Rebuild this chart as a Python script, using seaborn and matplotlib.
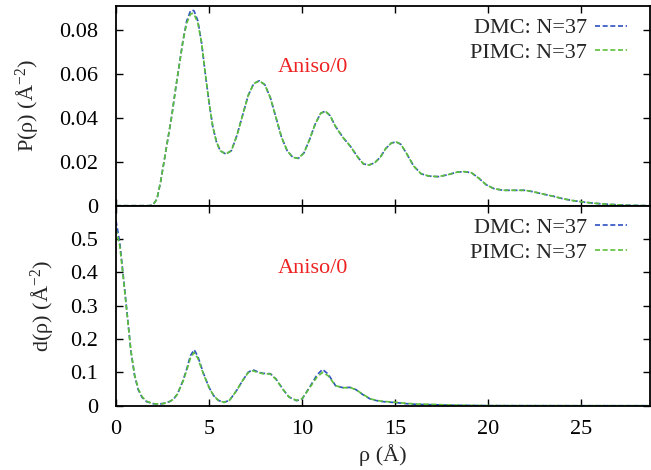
import numpy as np
import pandas as pd
import matplotlib
matplotlib.use("Agg")
import matplotlib.pyplot as plt
from matplotlib.lines import Line2D
import seaborn as sns

# ---- data ----
p_rho = [0.0, 1.0, 1.8, 2.0, 2.2, 2.4, 2.6, 2.8, 3.0, 3.2, 3.4, 3.6, 3.8, 4.0, 4.1, 4.2,
         4.4, 4.6, 4.8, 5.0, 5.2, 5.4, 5.6, 5.9, 6.2, 6.5, 6.8, 7.1, 7.4, 7.7, 8.0,
         8.3, 8.6, 8.9, 9.2, 9.5, 9.8, 10.1, 10.4, 10.7, 11.0, 11.25, 11.5, 11.8,
         12.2, 12.6, 13.0, 13.3, 13.6, 13.9, 14.2, 14.5, 14.8, 15.05, 15.3, 15.6,
         16.0, 16.4, 16.8, 17.3, 17.8, 18.3, 18.7, 19.1, 19.5, 19.9, 20.3, 20.8,
         21.4, 22.0, 22.5, 23.0, 23.5, 24.0, 24.5, 25.0, 25.5, 26.0, 26.5, 27.0,
         27.5, 28.0, 28.7]
p_dmc = [0.0, 0.0, 0.0, 0.0005, 0.003, 0.011, 0.021, 0.031, 0.041, 0.053, 0.064, 0.075,
         0.084, 0.0885, 0.089, 0.0885, 0.084, 0.074, 0.060, 0.047, 0.036, 0.029, 0.025,
         0.0235, 0.025, 0.032, 0.041, 0.050, 0.0555, 0.0568, 0.055, 0.049, 0.040, 0.031,
         0.025, 0.022, 0.0215, 0.024, 0.030, 0.037, 0.042, 0.043, 0.041, 0.036, 0.031,
         0.027, 0.022, 0.019, 0.0185, 0.0195, 0.022, 0.026, 0.0285, 0.029, 0.028, 0.024,
         0.018, 0.0145, 0.0135, 0.0132, 0.014, 0.0152, 0.0155, 0.015, 0.0125, 0.0095,
         0.0078, 0.0070, 0.0070, 0.0070, 0.0062, 0.0052, 0.0043, 0.0032, 0.0024, 0.0018,
         0.0013, 0.0009, 0.0006, 0.0004, 0.0002, 0.0001, 0.0]
p_pimc = [0.0, 0.0, 0.0, 0.0005, 0.003, 0.011, 0.021, 0.031, 0.041, 0.053, 0.064, 0.075,
          0.083, 0.087, 0.0875, 0.087, 0.083, 0.074, 0.060, 0.047, 0.036, 0.029, 0.025,
          0.0235, 0.025, 0.032, 0.041, 0.050, 0.0555, 0.0568, 0.055, 0.049, 0.040, 0.031,
          0.025, 0.022, 0.0215, 0.024, 0.030, 0.037, 0.042, 0.043, 0.041, 0.036, 0.031,
          0.027, 0.022, 0.019, 0.0185, 0.0195, 0.022, 0.026, 0.0285, 0.029, 0.028, 0.024,
          0.018, 0.0145, 0.0135, 0.0132, 0.014, 0.0152, 0.0155, 0.015, 0.0125, 0.0095,
          0.0078, 0.0070, 0.0070, 0.0070, 0.0062, 0.0052, 0.0043, 0.0032, 0.0024, 0.0018,
          0.0013, 0.0009, 0.0006, 0.0004, 0.0002, 0.0001, 0.0]

d_rho = [0.0, 0.2, 0.4, 0.6, 0.8, 1.0, 1.2, 1.4, 1.65, 2.0, 2.3, 2.6, 2.9, 3.1, 3.3,
         3.6, 3.8, 4.0, 4.2, 4.4, 4.7, 5.0, 5.25, 5.5, 5.8, 6.1, 6.5, 6.8, 7.1, 7.35,
         7.6, 7.9, 8.3, 8.6, 9.0, 9.3, 9.7, 10.0, 10.4, 10.8, 11.1, 11.4, 11.8, 12.2,
         12.6, 12.9, 13.3, 13.7, 14.2, 14.6, 15.1, 15.6, 16.2, 17.0, 18.0, 19.0, 20.0,
         22.0, 25.0, 28.7]
d_dmc = [0.555, 0.49, 0.385, 0.275, 0.165, 0.09, 0.047, 0.025, 0.012, 0.006, 0.005, 0.007,
         0.013, 0.02, 0.035, 0.075, 0.11, 0.15, 0.168, 0.148, 0.097, 0.055, 0.03, 0.016,
         0.010, 0.016, 0.047, 0.075, 0.100, 0.108, 0.102, 0.097, 0.096, 0.08, 0.047,
         0.026, 0.015, 0.02, 0.055, 0.092, 0.109, 0.095, 0.06, 0.054, 0.055, 0.048, 0.032,
         0.019, 0.013, 0.011, 0.009, 0.006, 0.004, 0.003, 0.0015, 0.0008, 0.0003, 0.0001,
         0.0, 0.0]
d_pimc = [0.53, 0.48, 0.38, 0.272, 0.165, 0.092, 0.05, 0.027, 0.013, 0.006, 0.005, 0.007,
          0.013, 0.02, 0.035, 0.073, 0.106, 0.143, 0.160, 0.142, 0.095, 0.055, 0.03, 0.016,
          0.010, 0.016, 0.047, 0.075, 0.099, 0.105, 0.100, 0.096, 0.095, 0.079, 0.047,
          0.026, 0.016, 0.021, 0.053, 0.086, 0.100, 0.090, 0.06, 0.054, 0.054, 0.048, 0.033,
          0.02, 0.014, 0.012, 0.010, 0.007, 0.005, 0.004, 0.002, 0.001, 0.0005, 0.0002,
          0.0, 0.0]

labels = ["DMC: N=37", "PIMC: N=37"]
x_ticks = [0, 5, 10, 15, 20, 25]
p_ticks = [0, 0.02, 0.04, 0.06, 0.08]
p_ticklabels = ["0", "0.02", "0.04", "0.06", "0.08"]
d_ticks = [0, 0.1, 0.2, 0.3, 0.4, 0.5]
d_ticklabels = ["0", "0.1", "0.2", "0.3", "0.4", "0.5"]
annot = "Aniso/0"

# ---- style ----
sns.set_style("ticks")
plt.rcParams["font.family"] = ["Liberation Serif", "DejaVu Serif"]
plt.rcParams["mathtext.fontset"] = "custom"
plt.rcParams["mathtext.rm"] = "Liberation Serif"
plt.rcParams["mathtext.it"] = "Liberation Serif:italic"
plt.rcParams["mathtext.default"] = "regular"

blue = "#2d4fc2"
green = "#5cbf3a"
dash = (0, (3, 1.6))
FS = 16

fig = plt.figure(figsize=(6.51, 4.70), dpi=100)
ax1 = fig.add_axes([116 / 651, 1 - 205.7 / 470, (650 - 116) / 651, (205.7 - 6) / 470])
ax2 = fig.add_axes([116 / 651, 1 - 405.7 / 470, (650 - 116) / 651, (405.7 - 205.7) / 470])

dfp = pd.DataFrame({"rho": p_rho * 2, "val": p_dmc + p_pimc,
                    "series": [labels[0]] * len(p_rho) + [labels[1]] * len(p_rho)})
dfd = pd.DataFrame({"rho": d_rho * 2, "val": d_dmc + d_pimc,
                    "series": [labels[0]] * len(d_rho) + [labels[1]] * len(d_rho)})

for ax, df in ((ax1, dfp), (ax2, dfd)):
    sns.lineplot(data=df, x="rho", y="val", hue="series", hue_order=labels,
                 palette=[blue, green], ax=ax, linewidth=1.2, sort=True,
                 estimator=None, legend=False)
    for ln in ax.get_lines():
        ln.set_linestyle(dash)
    ax.set_xlim(0, 28.7)
    ax.set_xticks(x_ticks)
    ax.tick_params(direction="in", length=5, width=1, top=True, right=True,
                   labelsize=FS, colors="black")
    ax.tick_params(axis="y", pad=13)
    ax.tick_params(axis="x", pad=10)
    for s in ax.spines.values():
        s.set_linewidth(1.3)
        s.set_color("black")
    handles = [Line2D([], [], color=blue, lw=1.2, ls=dash),
               Line2D([], [], color=green, lw=1.2, ls=dash)]
    ax.legend(handles, labels, loc="upper right", bbox_to_anchor=(0.974, 0.985),
              frameon=False, markerfirst=False, fontsize=FS, handlelength=1.45,
              handletextpad=0.35, labelspacing=0.18, borderaxespad=0.0)

ax1.set_ylim(0, 0.0908)
ax1.set_yticks(p_ticks)
ax1.set_yticklabels(p_ticklabels)
ax1.set_xticklabels([])
ax1.set_xlabel("")
ax1.set_ylabel("P(ρ) (Å$^{-2}$)", fontsize=FS)
ax1.yaxis.set_label_coords(-0.141, 0.5)
ax1.text(10.6, 0.063, annot, color="#ee2222", fontsize=FS, ha="center", va="center")

ax2.set_ylim(0, 0.6)
ax2.set_yticks(d_ticks)
ax2.set_yticklabels(d_ticklabels)
ax2.set_xticklabels([str(t) for t in x_ticks])
ax2.set_xlabel("ρ (Å)", fontsize=FS, labelpad=4)
ax2.set_ylabel("d(ρ) (Å$^{-2}$)", fontsize=FS)
ax2.yaxis.set_label_coords(-0.113, 0.5)
ax2.text(10.6, 0.413, annot, color="#ee2222", fontsize=FS, ha="center", va="center")

fig.savefig("out.png", dpi=100)
